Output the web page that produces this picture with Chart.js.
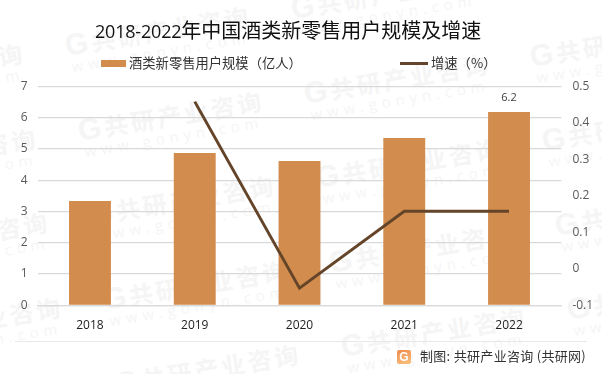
<!DOCTYPE html>
<html lang="zh">
<head>
    <meta charset="UTF-8">
    <title>2018-2022年中国酒类新零售用户规模及增速</title>
    <script src="https://cdn.jsdelivr.net/npm/chart.js@4/dist/chart.umd.min.js"></script>
    <style>
        html, body { margin: 0; padding: 0; background: #fff; }
        #page { position: relative; width: 602px; height: 374px; overflow: hidden; font-family: "Noto Sans CJK SC", sans-serif; }
        #marks { position: absolute; left: 0; top: 0; width: 602px; height: 374px; }
        .mark { position: absolute; white-space: nowrap; transform: rotate(-9.5deg); transform-origin: 0 17px; color: #f5f5f5; }
        .mark b { display: block; font-size: 24px; line-height: 34px; font-weight: 700; letter-spacing: 3px; }
        .mark b span { font-family: "Liberation Sans", sans-serif; font-size: 30px; font-weight: 700; }
        .mark i { display: block; font-style: normal; font-family: "Open Sans", sans-serif; font-size: 15px; line-height: 14px; margin-top: -3px; letter-spacing: 5px; margin-left: 3px; }
        #chartBox { position: absolute; left: 0; top: 0; width: 602px; height: 374px; }
        #title { position: absolute; left: 95px; top: 15px; font-size: 20px; line-height: 30px; color: #111; white-space: nowrap; }
        #title span { font-family: "Open Sans", sans-serif; font-size: 18px; letter-spacing: -0.2px; }
        .legendText { position: absolute; top: 53px; font-size: 13.3px; line-height: 20px; color: #333; white-space: nowrap; }
        .swatch { position: absolute; }
        #footLine { position: absolute; left: 15px; top: 341px; width: 572px; height: 1px; background: #e8e8e8; }
        #logo { position: absolute; left: 397px; top: 350px; width: 14px; height: 14px; border-radius: 2px; background: linear-gradient(160deg, #f08a4e, #f8c27e); color: #fff; font: bold 12px/14px "Liberation Sans", sans-serif; text-align: center; }
        #source { position: absolute; left: 420px; top: 347px; font-size: 13px; line-height: 18px; letter-spacing: 0.3px; color: #333; white-space: nowrap; }
    </style>
</head>
<body>
    <div id="page">
        <div id="marks"></div>
        <div id="chartBox"><canvas id="myChart" width="602" height="374"></canvas></div>
        <div id="title"><span>2018-2022</span>年中国酒类新零售用户规模及增速</div>
        <div class="swatch" style="left:101px;top:60px;width:25px;height:7px;background:#d28c4e"></div>
        <div class="legendText" id="barLegend" style="left:129px"></div>
        <div class="swatch" style="left:400px;top:62px;width:28px;height:3px;background:#654529"></div>
        <div class="legendText" id="lineLegend" style="left:431px"></div>
        <div id="footLine"></div>
        <div id="logo">G</div>
        <div id="source">制图: 共研产业咨询 (共研网)</div>
    </div>
    <script>
        // Data
        const years = ['2018', '2019', '2020', '2021', '2022'];
        const userScale = [3.33, 4.87, 4.61, 5.345, 6.175];
        const growthRate = [null, 0.458, -0.053, 0.1575, 0.1575];
        const barName = '酒类新零售用户规模（亿人）';
        const lineName = '增速（%）';

        document.getElementById('barLegend').textContent = barName;
        document.getElementById('lineLegend').textContent = lineName;

        // Background watermark, repeated on a slanted lattice
        const marks = document.getElementById('marks');
        for (let i = -1; i < 4; i++) {
            for (let j = -2; j < 7; j++) {
                const x = 65 + i * 226 + j * 12.5;
                const y = 46 - i * 37 + j * 84.5;
                if (x < -200 || x > 602 || y < -40 || y > 420) continue;
                const el = document.createElement('div');
                el.className = 'mark';
                el.style.left = x + 'px';
                el.style.top = (y - 17) + 'px';
                el.innerHTML = '<b><span>G</span>共研产业咨询</b><i>www.gonyn.com</i>';
                marks.appendChild(el);
            }
        }

        // Only the last bar carries a value label in the original
        const lastBarLabel = {
            id: 'lastBarLabel',
            afterDatasetsDraw(chart) {
                const bar = chart.getDatasetMeta(1).data[4];
                const ctx = chart.ctx;
                ctx.save();
                ctx.font = '11px "Open Sans", sans-serif';
                ctx.fillStyle = '#404040';
                ctx.textAlign = 'center';
                ctx.textBaseline = 'middle';
                ctx.fillText('6.2', bar.x, bar.y - 14);
                ctx.restore();
            }
        };

        const tickFont = { family: '"Open Sans", sans-serif', size: 12 };

        new Chart(document.getElementById('myChart').getContext('2d'), {
            data: {
                labels: years,
                datasets: [
                    {
                        type: 'line',
                        label: lineName,
                        data: growthRate,
                        yAxisID: 'y1',
                        borderColor: '#654529',
                        borderWidth: 3,
                        pointRadius: 0,
                        tension: 0,
                        order: 1
                    },
                    {
                        type: 'bar',
                        label: barName,
                        data: userScale,
                        yAxisID: 'y',
                        backgroundColor: '#d28c4e',
                        categoryPercentage: 1,
                        barPercentage: 0.4,
                        order: 2
                    }
                ]
            },
            options: {
                responsive: false,
                animation: false,
                layout: { padding: { top: 86.3, left: 0, right: 0, bottom: 0 } },
                plugins: {
                    legend: { display: false },
                    title: { display: false },
                    tooltip: { enabled: false }
                },
                scales: {
                    x: {
                        grid: { display: false },
                        border: { color: '#d9d9d9', width: 1.3 },
                        ticks: { color: '#222', font: tickFont, padding: 5, maxRotation: 0 },
                        afterFit(scale) { scale.height = 68.7; }
                    },
                    y: {
                        position: 'left',
                        min: 0,
                        max: 7,
                        grid: { color: '#d9d9d9', lineWidth: 1.3, drawTicks: false },
                        border: { display: false },
                        ticks: { stepSize: 1, color: '#595959', font: tickFont, padding: 10 },
                        afterFit(scale) { scale.width = 37.6; }
                    },
                    y1: {
                        position: 'right',
                        min: -0.1,
                        max: 0.5,
                        grid: { display: false, drawTicks: false },
                        border: { display: false },
                        ticks: {
                            stepSize: 0.1,
                            color: '#595959',
                            font: tickFont,
                            padding: 11,
                            callback: function(value) {
                                return String(Number(value.toFixed(1)));
                            }
                        },
                        afterFit(scale) { scale.width = 40.6; }
                    }
                }
            },
            plugins: [lastBarLabel]
        });
    </script>
</body>
</html>
